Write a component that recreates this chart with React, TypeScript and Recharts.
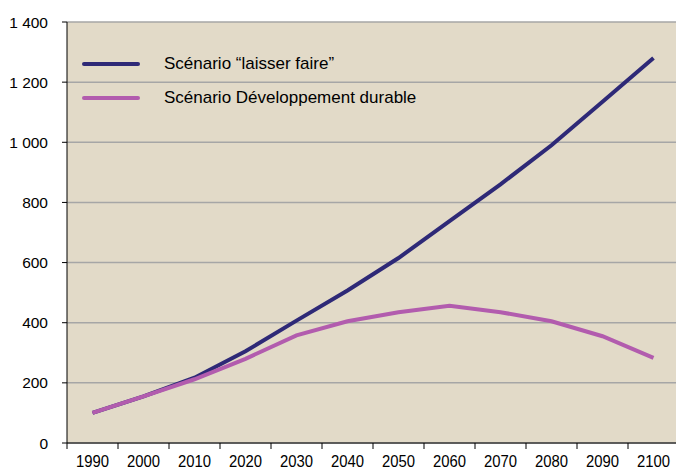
import { LineChart, Line, XAxis, YAxis, CartesianGrid } from 'recharts';

const years = ['1990', '2000', '2010', '2020', '2030', '2040', '2050', '2060', '2070', '2080', '2090', '2100'];
const laisserFaire = [100, 155, 217, 305, 407, 507, 615, 738, 860, 990, 1135, 1280];
const durable = [100, 155, 212, 280, 358, 405, 435, 456, 435, 405, 355, 283];
const yTicks = [0, 200, 400, 600, 800, 1000, 1200, 1400];

const series = [
  { key: 'lf', name: 'Scénario \u201claisser faire\u201d', color: '#2e2977' },
  { key: 'dd', name: 'Scénario Développement durable', color: '#b25cae' },
];

const data = years.map((y, i) => ({ year: y, lf: laisserFaire[i], dd: durable[i] }));

const BAND = 51;
const FONT = '"Liberation Sans", Arial, sans-serif';

const fmt = (v: number) => String(v).replace(/\B(?=(\d{3})+(?!\d))/g, ' ');

function XTick(props: any) {
  const { x, y, payload, index } = props;
  const left = x - BAND / 2;
  return (
    <g>
      <line x1={left} y1={y} x2={left} y2={y + 6} stroke="#000" strokeWidth={1} />
      {index === years.length - 1 && <line x1={x + BAND / 2} y1={y} x2={x + BAND / 2} y2={y + 6} stroke="#000" />}
      <text transform={`translate(${x},${y + 23.5}) scale(0.9,1)`} textAnchor="middle" fontSize={16.5} fontFamily={FONT} fill="#000">
        {payload.value}
      </text>
    </g>
  );
}

export default function App() {
  return (
    <div style={{ position: 'absolute', left: 0, top: 0, width: 676, height: 470, overflow: 'hidden', background: '#fff' }}>
      <LineChart width={690} height={470} data={data} margin={{ top: 22, right: 11, bottom: 0, left: 0 }}>
        <CartesianGrid vertical={false} stroke="#a6a6a6" strokeWidth={1.5} fill="#e2dac8" fillOpacity={1} />
        <XAxis
          dataKey="year"
          padding={{ left: BAND / 2, right: BAND / 2 }}
          axisLine={{ stroke: '#000' }}
          tickLine={false}
          tickSize={0}
          tickMargin={0}
          tick={<XTick />}
          interval={0}
          height={27}
        />
        <YAxis
          domain={[0, 1400]}
          ticks={yTicks}
          tickFormatter={fmt}
          width={67}
          axisLine={{ stroke: '#000' }}
          tickLine={{ stroke: '#000' }}
          tickSize={5}
          tickMargin={14}
          tick={{ fontSize: 15.5, fontFamily: FONT, fill: '#000' }}
        />
        {series.map((s) => (
          <Line key={s.key} type="linear" dataKey={s.key} name={s.name} stroke={s.color} strokeWidth={4} dot={false} isAnimationActive={false} />
        ))}
      </LineChart>
      <div style={{ position: 'absolute', left: 82, top: 47, fontFamily: FONT, fontSize: 17, color: '#000' }}>
        {series.map((s) => (
          <div key={s.key} style={{ display: 'flex', alignItems: 'center', height: 34 }}>
            <svg width={58} height={6} style={{ marginRight: 24 }}>
              <line x1={2} y1={3} x2={56} y2={3} stroke={s.color} strokeWidth={4} strokeLinecap="round" />
            </svg>
            <span>{s.name}</span>
          </div>
        ))}
      </div>
    </div>
  );
}
